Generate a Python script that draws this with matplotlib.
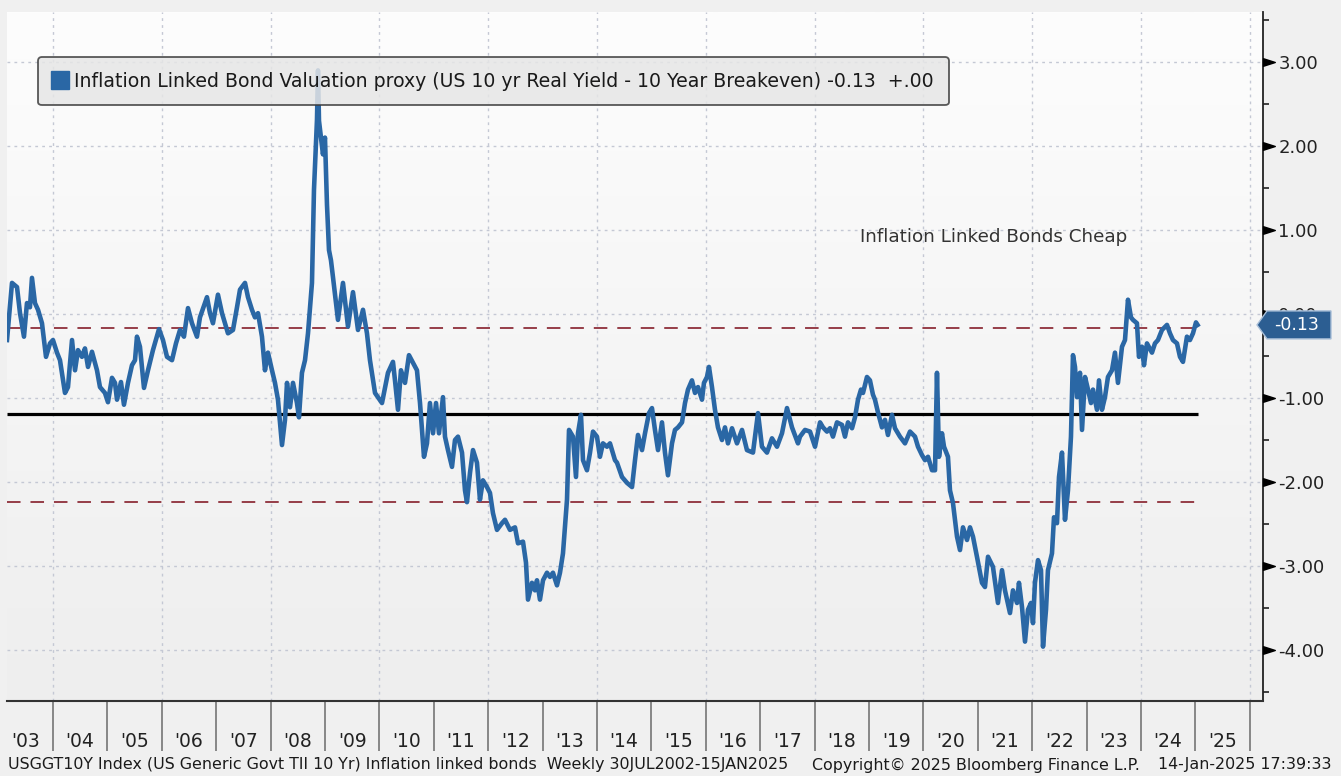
import numpy as np
import matplotlib
matplotlib.use("Agg")
import matplotlib.pyplot as plt
from matplotlib.colors import LinearSegmentedColormap
from matplotlib.lines import Line2D
from matplotlib.path import Path
from matplotlib.patches import Polygon
import matplotlib.transforms as mtransforms

plt.rcParams['font.family'] = ['DejaVu Sans']
plt.rcParams['axes.unicode_minus'] = False

# --- data (decimal year, spread in %) ---
dates = [
    2003.155, 2003.247, 2003.339, 2003.394, 2003.467, 2003.522, 2003.577, 2003.614, 2003.669, 2003.725,
    2003.798, 2003.872, 2003.945, 2004.000, 2004.074, 2004.129, 2004.221, 2004.276, 2004.350, 2004.405,
    2004.460, 2004.533, 2004.588, 2004.644, 2004.717, 2004.809, 2004.864, 2004.956, 2005.011, 2005.085,
    2005.140, 2005.177, 2005.250, 2005.305, 2005.379, 2005.452, 2005.508, 2005.544, 2005.599, 2005.673,
    2005.747, 2005.838, 2005.949, 2006.022, 2006.096, 2006.188, 2006.261, 2006.335, 2006.408, 2006.482,
    2006.555, 2006.647, 2006.702, 2006.831, 2006.886, 2006.941, 2007.033, 2007.107, 2007.217, 2007.309,
    2007.383, 2007.438, 2007.530, 2007.585, 2007.658, 2007.713, 2007.769, 2007.842, 2007.897, 2007.952,
    2008.026, 2008.081, 2008.136, 2008.210, 2008.265, 2008.302, 2008.357, 2008.412, 2008.485, 2008.522,
    2008.577, 2008.633, 2008.688, 2008.761, 2008.798, 2008.835, 2008.853, 2008.872, 2008.890, 2008.927,
    2008.963, 2009.000, 2009.037, 2009.074, 2009.110, 2009.147, 2009.239, 2009.331, 2009.423, 2009.515,
    2009.607, 2009.699, 2009.772, 2009.827, 2009.920, 2010.048, 2010.158, 2010.250, 2010.287, 2010.342,
    2010.397, 2010.471, 2010.544, 2010.618, 2010.691, 2010.747, 2010.820, 2010.875, 2010.930, 2010.986,
    2011.041, 2011.096, 2011.169, 2011.206, 2011.261, 2011.335, 2011.390, 2011.445, 2011.519, 2011.574,
    2011.610, 2011.666, 2011.721, 2011.794, 2011.849, 2011.904, 2011.978, 2012.033, 2012.088, 2012.162,
    2012.254, 2012.309, 2012.401, 2012.493, 2012.548, 2012.640, 2012.695, 2012.732, 2012.805, 2012.860,
    2012.897, 2012.952, 2013.008, 2013.081, 2013.136, 2013.191, 2013.265, 2013.320, 2013.375, 2013.449,
    2013.486, 2013.559, 2013.614, 2013.651, 2013.706, 2013.743, 2013.816, 2013.872, 2013.927, 2014.000,
    2014.055, 2014.110, 2014.184, 2014.239, 2014.331, 2014.368, 2014.460, 2014.552, 2014.644, 2014.699,
    2014.754, 2014.828, 2014.883, 2014.956, 2015.011, 2015.066, 2015.122, 2015.195, 2015.250, 2015.305,
    2015.379, 2015.434, 2015.489, 2015.563, 2015.618, 2015.673, 2015.746, 2015.802, 2015.857, 2015.930,
    2015.967, 2016.022, 2016.059, 2016.114, 2016.169, 2016.224, 2016.298, 2016.353, 2016.408, 2016.482,
    2016.574, 2016.666, 2016.757, 2016.868, 2016.960, 2017.033, 2017.125, 2017.217, 2017.309, 2017.401,
    2017.493, 2017.585, 2017.695, 2017.732, 2017.824, 2017.916, 2018.008, 2018.100, 2018.155, 2018.228,
    2018.283, 2018.338, 2018.412, 2018.504, 2018.559, 2018.614, 2018.688, 2018.743, 2018.798, 2018.853,
    2018.890, 2018.963, 2019.018, 2019.073, 2019.110, 2019.165, 2019.239, 2019.294, 2019.349, 2019.423,
    2019.478, 2019.570, 2019.662, 2019.754, 2019.846, 2019.901, 2019.975, 2020.030, 2020.085, 2020.159,
    2020.214, 2020.250, 2020.287, 2020.342, 2020.379, 2020.452, 2020.489, 2020.544, 2020.618, 2020.673,
    2020.728, 2020.802, 2020.857, 2020.912, 2020.985, 2021.077, 2021.132, 2021.188, 2021.279, 2021.371,
    2021.445, 2021.500, 2021.592, 2021.647, 2021.721, 2021.757, 2021.813, 2021.868, 2021.923, 2021.978,
    2022.015, 2022.051, 2022.107, 2022.162, 2022.199, 2022.254, 2022.290, 2022.364, 2022.401, 2022.456,
    2022.493, 2022.548, 2022.603, 2022.658, 2022.713, 2022.750, 2022.787, 2022.824, 2022.879, 2022.916,
    2022.971, 2023.026, 2023.081, 2023.118, 2023.191, 2023.228, 2023.283, 2023.338, 2023.393, 2023.467,
    2023.522, 2023.577, 2023.651, 2023.706, 2023.761, 2023.816, 2023.853, 2023.926, 2023.963, 2024.018,
    2024.055, 2024.110, 2024.202, 2024.257, 2024.312, 2024.386, 2024.478, 2024.533, 2024.588, 2024.662,
    2024.717, 2024.772, 2024.845, 2024.900, 2024.956, 2025.011, 2025.040,
]
values = [
    -0.31, 0.37, 0.32, 0.01, -0.27, 0.13, 0.08, 0.43, 0.13, 0.05,
    -0.11, -0.51, -0.35, -0.31, -0.46, -0.55, -0.94, -0.87, -0.31, -0.67,
    -0.43, -0.51, -0.41, -0.63, -0.45, -0.67, -0.87, -0.94, -1.05, -0.76,
    -0.82, -1.02, -0.81, -1.08, -0.82, -0.61, -0.55, -0.27, -0.39, -0.88,
    -0.67, -0.43, -0.18, -0.31, -0.51, -0.55, -0.35, -0.19, -0.27, 0.07,
    -0.11, -0.27, -0.04, 0.20, 0.01, -0.11, 0.23, 0.01, -0.23, -0.19,
    0.08, 0.29, 0.37, 0.20, 0.05, -0.04, 0.01, -0.27, -0.67, -0.46,
    -0.67, -0.82, -1.02, -1.56, -1.26, -0.82, -1.11, -0.82, -1.06, -1.23,
    -0.70, -0.55, -0.23, 0.37, 1.48, 2.04, 2.31, 2.90, 2.30, 2.10,
    1.90, 2.10, 1.30, 0.76, 0.64, 0.44, -0.07, 0.37, -0.15, 0.26,
    -0.19, 0.05, -0.23, -0.55, -0.94, -1.06, -0.70, -0.57, -0.79, -1.14,
    -0.67, -0.82, -0.49, -0.58, -0.67, -1.06, -1.70, -1.54, -1.06, -1.42,
    -1.06, -1.42, -0.99, -1.46, -1.62, -1.82, -1.50, -1.46, -1.65, -2.10,
    -2.24, -1.89, -1.62, -1.77, -2.21, -1.98, -2.06, -2.13, -2.37, -2.57,
    -2.49, -2.45, -2.57, -2.54, -2.73, -2.71, -2.96, -3.40, -3.20, -3.29,
    -3.17, -3.40, -3.17, -3.08, -3.13, -3.08, -3.23, -3.08, -2.85, -2.21,
    -1.38, -1.46, -1.94, -1.42, -1.20, -1.74, -1.86, -1.65, -1.40, -1.46,
    -1.70, -1.54, -1.58, -1.54, -1.74, -1.77, -1.94, -2.01, -2.06, -1.74,
    -1.44, -1.62, -1.42, -1.18, -1.12, -1.38, -1.62, -1.29, -1.65, -1.92,
    -1.54, -1.38, -1.35, -1.29, -1.06, -0.90, -0.79, -0.94, -0.87, -1.02,
    -0.82, -0.75, -0.63, -0.87, -1.14, -1.35, -1.50, -1.35, -1.54, -1.36,
    -1.54, -1.38, -1.62, -1.65, -1.18, -1.58, -1.65, -1.48, -1.58, -1.42,
    -1.12, -1.35, -1.54, -1.46, -1.38, -1.40, -1.58, -1.29, -1.35, -1.40,
    -1.36, -1.46, -1.29, -1.32, -1.46, -1.29, -1.36, -1.23, -1.02, -0.90,
    -0.94, -0.75, -0.79, -0.96, -1.02, -1.17, -1.35, -1.26, -1.44, -1.20,
    -1.36, -1.46, -1.54, -1.40, -1.46, -1.58, -1.68, -1.74, -1.70, -1.86,
    -1.86, -0.70, -1.70, -1.42, -1.58, -1.70, -2.10, -2.25, -2.65, -2.81,
    -2.54, -2.69, -2.54, -2.65, -2.89, -3.20, -3.25, -2.89, -3.01, -3.44,
    -3.05, -3.29, -3.56, -3.29, -3.44, -3.20, -3.49, -3.90, -3.52, -3.44,
    -3.68, -3.20, -2.93, -3.05, -3.96, -3.52, -3.05, -2.85, -2.42, -2.49,
    -1.94, -1.65, -2.45, -2.10, -1.46, -0.49, -0.63, -0.99, -0.70, -1.38,
    -0.75, -0.90, -1.06, -0.90, -1.14, -0.79, -1.14, -0.99, -0.75, -0.67,
    -0.46, -0.82, -0.39, -0.31, 0.17, -0.04, -0.07, -0.11, -0.51, -0.39,
    -0.61, -0.35, -0.46, -0.35, -0.31, -0.19, -0.13, -0.23, -0.31, -0.35,
    -0.51, -0.57, -0.27, -0.31, -0.23, -0.10, -0.13,
]

mean_level = -1.19
upper_band = -0.17
lower_band = -2.24
y_ticks = [3, 2, 1, 0, -1, -2, -3, -4]
year_labels = ["'03", "'04", "'05", "'06", "'07", "'08", "'09", "'10", "'11", "'12", "'13", "'14",
               "'15", "'16", "'17", "'18", "'19", "'20", "'21", "'22", "'23", "'24", "'25"]
series_label = "Inflation Linked Bond Valuation proxy (US 10 yr Real Yield - 10 Year Breakeven) -0.13  +.00"

blue = '#2a67a5'
W, H = 1341, 776

fig = plt.figure(figsize=(W / 100, H / 100), dpi=100, facecolor='#f0f0f0')
ax = fig.add_axes([7 / W, 1 - 701 / H, (1263 - 7) / W, (701 - 12) / H])
ax.set_facecolor('none')

# gradient background of plot area
cmap = LinearSegmentedColormap.from_list('bg', ['#fdfdfd', '#eeeeee'])
ax.imshow(np.linspace(0, 1, 256).reshape(-1, 1), cmap=cmap, extent=[0, 1, 0, 1],
          transform=ax.transAxes, aspect='auto', zorder=0)

xmin, xmax = 2003.155, 2026.243
ax.set_xlim(xmin, xmax)
ax.set_ylim(-4.607, 3.595)

# grid
for yv in y_ticks:
    ax.axhline(yv, color='#c4c8d4', lw=1, ls=(0, (2, 3)), zorder=1)
for yr in range(2004, 2027, 2):
    ax.axvline(yr, color='#c4c8d4', lw=1, ls=(0, (2, 3)), zorder=1)

# reference lines
ax.hlines(mean_level, xmin, dates[-1], color='black', lw=2.3, zorder=3)
for lvl in (upper_band, lower_band):
    ax.hlines(lvl, xmin, dates[-1], color='#8e2f3a', lw=1.3, linestyles=(0, (7.5, 5.5)), zorder=3)

ax.plot(dates, values, color=blue, lw=3.3, solid_joinstyle='round', zorder=4)

ax.text(2021.3, 0.92, 'Inflation Linked Bonds Cheap', fontsize=13.2, color='#333333',
        ha='center', va='center', zorder=5)

# spines
for s in ('top', 'left'):
    ax.spines[s].set_visible(False)
ax.spines['right'].set_color('#222222')
ax.spines['right'].set_linewidth(1.3)
ax.spines['bottom'].set_color('#333333')
ax.spines['bottom'].set_linewidth(1.5)

# y axis on the right
ax.yaxis.tick_right()
ax.set_yticks(y_ticks)
ax.set_yticklabels(['%.2f' % v for v in y_ticks])
ax.set_yticks(np.arange(-4.5, 3.6, 1.0), minor=True)
ax.tick_params(axis='y', which='major', length=0, pad=11, labelsize=13, labelcolor='#222222')
ax.tick_params(axis='y', which='minor', length=4, width=1.2, color='#222222', direction='out')
tri = Path([(0, -0.32), (1, 0), (0, 0.32), (0, -0.32)],
           [Path.MOVETO, Path.LINETO, Path.LINETO, Path.CLOSEPOLY])
blend = mtransforms.blended_transform_factory(ax.transAxes, ax.transData)
ax.plot([1] * len(y_ticks), y_ticks, ls='none', marker=tri, markersize=17, color='black',
        transform=blend, clip_on=False, zorder=6)

# x axis: year separators and centred labels
ax.set_xticks(range(2004, 2027))
ax.set_xticklabels([])
ax.set_xticks([y + 0.5 for y in range(2003, 2026)], minor=True)
ax.set_xticklabels(year_labels, minor=True)
ax.tick_params(axis='x', which='major', length=36, width=1.1, color='#6a6a6a', direction='out')
ax.tick_params(axis='x', which='minor', length=0, pad=22, labelsize=13.5, labelcolor='#222222')

# legend
handle = Line2D([], [], ls='none', marker='s', markersize=12.5, color=blue)
leg = ax.legend([handle], [series_label], loc='upper left',
                bbox_to_anchor=(38 / W, 1 - 57 / H), bbox_transform=fig.transFigure,
                fontsize=13.6, frameon=True, fancybox=True, framealpha=0.85,
                facecolor='#e6e6e6', edgecolor='#3c3c3c', borderpad=0.78,
                handlelength=0.8, handletextpad=0.35, borderaxespad=0)
leg.get_frame().set_linewidth(1.3)
leg.set_zorder(7)
for t in leg.get_texts():
    t.set_color('#1a1a1a')

# last value tag
fig.canvas.draw()
last = values[-1]
yc = ax.transData.transform((dates[-1], last))[1]
x0 = 1257
tag = Polygon([(x0, yc), (x0 + 10, yc + 14), (x0 + 74, yc + 14), (x0 + 74, yc - 14), (x0 + 10, yc - 14)],
              closed=True, transform=None, facecolor='#2c5e92', edgecolor='#a9bfd8', lw=1, zorder=10)
fig.patches.append(tag)
fig.text((x0 + 40) / W, yc / H, '%.2f' % last, color='white', fontsize=12.5,
         ha='center', va='center', zorder=11)

# footer
fig.text(8 / W, 1 - 765 / H,
         'USGGT10Y Index (US Generic Govt TII 10 Yr) Inflation linked bonds  Weekly 30JUL2002-15JAN2025',
         fontsize=11.4, color='#1a1a1a', va='center', ha='left')
fig.text(812 / W, 1 - 765 / H, 'Copyright\u00a9 2025 Bloomberg Finance L.P.',
         fontsize=11.4, color='#1a1a1a', va='center', ha='left')
fig.text(1332 / W, 1 - 765 / H, '14-Jan-2025 17:39:33',
         fontsize=11.4, color='#1a1a1a', va='center', ha='right')

fig.savefig('out.png', dpi=100, facecolor=fig.get_facecolor())
